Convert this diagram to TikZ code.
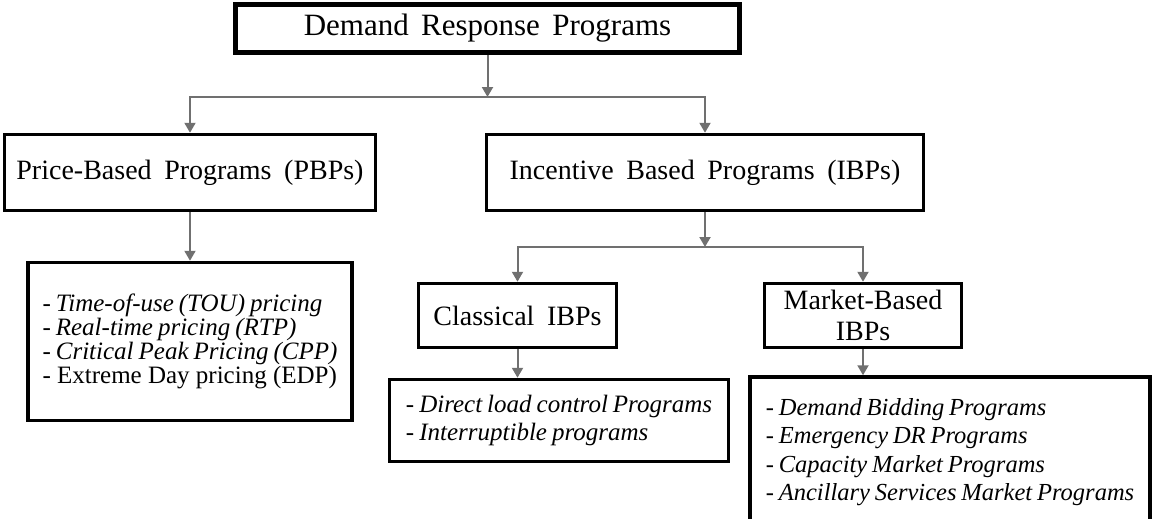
\documentclass[tikz,border=0pt]{standalone}
\usepackage{fontspec}
\setmainfont{Liberation Serif}
\usetikzlibrary{arrows.meta,calc}
\definecolor{linegray}{RGB}{112,112,112}
\newcommand{\titlefont}{\fontsize{31pt}{34pt}\selectfont\spaceskip=0.4em\relax}
\newcommand{\headfont}{\fontsize{28pt}{31pt}\selectfont\spaceskip=0.45em\relax}
\newcommand{\listfont}{\fontsize{25pt}{28pt}\selectfont\itshape\spaceskip=0.2em\relax}
\newcommand{\pbplistfont}{\fontsize{25pt}{24pt}\selectfont\itshape\spaceskip=0.2em\relax}
\newcommand{\mktlistfont}{\fontsize{24.5pt}{28.5pt}\selectfont\itshape\spaceskip=0.2em\relax}

\begin{document}
\begin{tikzpicture}[x=1pt,y=-1pt,
  box/.style={draw=black,line width=3.5pt,inner sep=0pt},
  head/.style={box,font=\headfont,align=center},
  list/.style={box,font=\listfont,align=left},
  arr/.style={draw=linegray,line width=2pt,-{Triangle[width=11pt,length=10pt]}}]
\useasboundingbox (0,0) rectangle (1154,519);

\node (drp) at (487.5,28.5) [box,line width=5pt,minimum width=504pt,minimum height=48pt,font=\titlefont] {Demand Response Programs};

\node (pbp) at (190,172.5) [head,minimum width=371pt,minimum height=76pt] {Price-Based Programs (PBPs)};
\node (ibp) at (705,172.5) [head,minimum width=437pt,minimum height=76pt] {Incentive Based Programs (IBPs)};

\node (pbplist) at (190,341.5) [list,minimum width=324pt,minimum height=158pt,font=\pbplistfont] {{\upshape -} Time-of-use (TOU) pricing\\ {\upshape -} Real-time pricing (RTP)\\ {\upshape -} Critical Peak Pricing (CPP)\\ {\upshape\spaceskip=0.25em\relax - Extreme Day pricing (EDP)}};

\node (cls) at (517.5,315.5) [head,minimum width=198pt,minimum height=64pt] {Classical IBPs};
\node (mkt) at (863,315.5) [head,minimum width=197pt,minimum height=64pt] {Market-Based\\IBPs};

\node (clslist) at (559,420.5) [list,minimum width=339pt,minimum height=82pt] {{\upshape -} Direct load control Programs\\ {\upshape -} Interruptible programs};
\node (mktlist) at (950,452) [list,minimum width=400pt,minimum height=150pt,font=\mktlistfont] {{\upshape -} Demand Bidding Programs\\ {\upshape -} Emergency DR Programs\\ {\upshape -} Capacity Market Programs\\ {\upshape -} Ancillary Services Market Programs};

\coordinate (s1) at (487.5,97);
\coordinate (s2) at (705,247);

\draw[arr] (drp) -- (s1);
\draw[arr] (s1) -| (pbp);
\draw[arr] (s1) -| (ibp);
\draw[arr] (pbp) -- (pbplist);
\draw[arr] (ibp) -- (s2);
\draw[arr] (s2) -| (cls);
\draw[arr] (s2) -| (mkt);
\draw[arr] (cls.south) -- (cls.south |- clslist.north);
\draw[arr] (mkt.south) -- (mkt.south |- mktlist.north);
\end{tikzpicture}
\end{document}
